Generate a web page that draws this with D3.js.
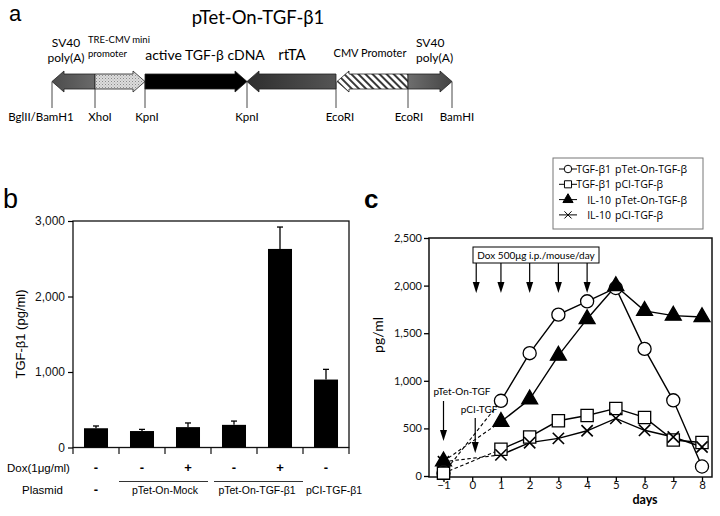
<!DOCTYPE html>
<html><head><meta charset="utf-8">
<script src="https://cdn.jsdelivr.net/npm/d3@7"></script>
<style>body{margin:0;background:#fff} svg{display:block}</style>
</head><body>
<svg id="fig" width="720" height="516"></svg>
<script>
// ---------- Panel a: plasmid map ----------
const mapTitle = "pTet-On-TGF-β1";
const mapSiteNames = ["BglII/BamH1", "XhoI", "KpnI", "KpnI", "EcoRI", "EcoRI", "BamHI"];
const mapSitePos = [0, 43, 93, 195, 284, 356, 400];
const mapElementLabels = [["SV40", "poly(A)"], ["TRE-CMV mini", "promoter"], ["active TGF-β cDNA"], ["rtTA"], ["CMV Promoter"], ["SV40", "poly(A)"]];
const mapDirections = [-1, 1, 1, -1, -1, 1];

// ---------- Panel b: bar chart ----------
const bDox = ["-", "-", "+", "-", "+", "-"];
const bValues = [255, 218, 270, 300, 2630, 900];
const bErrors = [30, 22, 55, 50, 290, 135];
const bYTicks = [0, 1000, 2000, 3000];
const bPlasmidLabels = ["-", "pTet-On-Mock", "pTet-On-TGF-β1", "pCI-TGF-β1"];
const bPlasmidFrom = [0, 1, 3, 5];
const bPlasmidTo = [0, 2, 4, 5];

// ---------- Panel c: time course ----------
const days = [-1, 1, 2, 3, 4, 5, 6, 7, 8];
const tgfTet = [30, 790, 1290, 1695, 1835, 1975, 1335, 795, 100];
const tgfPCI = [30, 280, 410, 580, 635, 710, 615, 378, 352];
const il10Tet = [155, 570, 805, 1265, 1650, 1995, 1735, 1685, 1670];
const il10PCI = [150, 222, 350, 395, 475, 605, 480, 410, 305];
const seriesNames = [["TGF-β1", "pTet-On-TGF-β"], ["TGF-β1", "pCI-TGF-β"], ["IL-10", "pTet-On-TGF-β"], ["IL-10", "pCI-TGF-β"]];
const cXTicks = [-1, 0, 1, 2, 3, 4, 5, 6, 7, 8];
const cYTicks = [0, 500, 1000, 1500, 2000, 2500];
const doxDays = [0, 1, 2, 3, 4];

const svg = d3.select("#fig");
const defs = svg.append("defs");
const FA = "Lato, 'Noto Sans', sans-serif";
const FB = "'Liberation Sans', Arial, sans-serif";
const FL = "'Open Sans', 'Noto Sans', sans-serif";

// patterns / gradients
const stip = defs.append("pattern").attr("id", "stip").attr("width", 3).attr("height", 3).attr("patternUnits", "userSpaceOnUse");
stip.append("rect").attr("width", 3).attr("height", 3).attr("fill", "#dcdcdc");
stip.append("rect").attr("width", 1).attr("height", 1).attr("fill", "#8a8a8a");
stip.append("rect").attr("x", 1.5).attr("y", 1.5).attr("width", 1).attr("height", 1).attr("fill", "#a8a8a8");
const hatch = defs.append("pattern").attr("id", "hatch").attr("width", 5).attr("height", 5)
  .attr("patternUnits", "userSpaceOnUse").attr("patternTransform", "rotate(-45)");
hatch.append("rect").attr("width", 5).attr("height", 5).attr("fill", "#fff");
hatch.append("line").attr("x1", 1).attr("y1", 0).attr("x2", 1).attr("y2", 5).attr("stroke", "#222").attr("stroke-width", 1.8);
function grad(id, c0, c1) {
  const g = defs.append("linearGradient").attr("id", id);
  g.append("stop").attr("offset", "0%").attr("stop-color", c0);
  g.append("stop").attr("offset", "100%").attr("stop-color", c1);
}
grad("gL", "#4c4c4c", "#6a6a6a");
grad("gRt", "#2e2e2e", "#555");
grad("gR", "#6e6e6e", "#444");
const mapFills = ["url(#gL)", "url(#stip)", "#000", "url(#gRt)", "url(#hatch)", "url(#gR)"];

// ---------- Panel a drawing ----------
svg.append("text").attr("x", 9).attr("y", 21).attr("font-family", FB).attr("font-size", 22).text("a");
svg.append("text").attr("x", 258).attr("y", 24).attr("text-anchor", "middle").attr("font-family", FA).attr("font-size", 18.5).text(mapTitle);

const mapX = d3.scaleLinear([0, 400], [52, 452]);
const yMid = 81.5, bodyH = 7.5, headH = 10.5, headL = 12;
function arrowPath(xa, xb, dir) {
  if (dir > 0) {
    const hb = xb - headL;
    return `M${xa},${yMid - bodyH}L${hb},${yMid - bodyH}L${hb},${yMid - headH}L${xb},${yMid}L${hb},${yMid + headH}L${hb},${yMid + bodyH}L${xa},${yMid + bodyH}Z`;
  } else {
    const hb = xa + headL;
    return `M${xb},${yMid - bodyH}L${hb},${yMid - bodyH}L${hb},${yMid - headH}L${xa},${yMid}L${hb},${yMid + headH}L${hb},${yMid + bodyH}L${xb},${yMid + bodyH}Z`;
  }
}
// site lines
svg.append("g").selectAll("line").data(mapSitePos).join("line")
  .attr("x1", d => mapX(d)).attr("x2", d => mapX(d)).attr("y1", yMid).attr("y2", 108)
  .attr("stroke", "#333").attr("stroke-width", 0.9);
// arrows
svg.append("g").selectAll("path").data(mapDirections).join("path")
  .attr("d", (d, i) => arrowPath(mapX(mapSitePos[i]) + (i === 4 ? 1 : 0), mapX(mapSitePos[i + 1]), d))
  .attr("fill", (d, i) => mapFills[i]).attr("stroke", "#222").attr("stroke-width", 0.8);
// site labels
const siteDx = [-11, 5, 2, 0, 4, 1, 5];
svg.append("g").selectAll("text").data(mapSiteNames).join("text")
  .attr("x", (d, i) => mapX(mapSitePos[i]) + siteDx[i]).attr("y", 121)
  .attr("text-anchor", "middle").attr("font-family", FA).attr("font-size", 11.5).text(d => d);
// element labels (layout)
const elLabelX = [66, 88, 205, 292, 370, 416];
const elAnchor = ["middle", "start", "middle", "middle", "middle", "start"];
const elSize = [12, 9.5, 14, 15, 11, 12];
const elY = [[47, 62], [43, 57], [60], [60], [57], [47, 62]];
mapElementLabels.forEach((lines, i) => {
  lines.forEach((t, j) => {
    svg.append("text").attr("x", elLabelX[i]).attr("y", elY[i][j]).attr("text-anchor", elAnchor[i])
      .attr("font-family", FA).attr("font-size", elSize[i]).text(t);
  });
});

// ---------- Panel b drawing ----------
svg.append("text").attr("x", 3).attr("y", 208).attr("font-family", FB).attr("font-size", 27).text("b");
const bX = d3.scaleBand(d3.range(bValues.length), [73, 349]).paddingInner(0.478).paddingOuter(0.239);
const bY = d3.scaleLinear([0, 3000], [447.5, 221]);
svg.append("rect").attr("x", 73).attr("y", 221).attr("width", 276).attr("height", 226.5)
  .attr("fill", "none").attr("stroke", "#111").attr("stroke-width", 1.3);
const bAx = svg.append("g").attr("transform", "translate(73,0)")
  .call(d3.axisLeft(bY).tickValues(bYTicks).tickFormat(d3.format(",")).tickSize(5).tickSizeOuter(0));
bAx.select(".domain").remove();
bAx.selectAll("line").attr("stroke-width", 1.2);
bAx.selectAll("text").attr("font-family", FB).attr("font-size", 12).attr("fill", "#111");
// bottom ticks at band boundaries
const bGap = bX.step() - bX.bandwidth();
const bBounds = d3.range(bValues.length + 1).map(i => i < bValues.length ? bX(i) - bGap / 2 : bX(i - 1) + bX.bandwidth() + bGap / 2);
svg.append("g").selectAll("line").data(bBounds).join("line")
  .attr("x1", d => d).attr("x2", d => d).attr("y1", 447.5).attr("y2", 454).attr("stroke", "#111").attr("stroke-width", 1.2);
// bars
svg.append("g").selectAll("rect").data(bValues).join("rect")
  .attr("x", (d, i) => bX(i)).attr("width", bX.bandwidth())
  .attr("y", d => bY(d)).attr("height", d => bY(0) - bY(d)).attr("fill", "#000");
// error bars
const eb = svg.append("g").attr("stroke", "#000").attr("stroke-width", 1.3);
bValues.forEach((v, i) => {
  const cx = bX(i) + bX.bandwidth() / 2;
  eb.append("line").attr("x1", cx).attr("x2", cx).attr("y1", bY(v)).attr("y2", bY(v + bErrors[i]));
  eb.append("line").attr("x1", cx - 3).attr("x2", cx + 3).attr("y1", bY(v + bErrors[i])).attr("y2", bY(v + bErrors[i]));
});
// dox row
svg.append("text").attr("x", 7).attr("y", 472).attr("font-family", FB).attr("font-size", 11.5).text("Dox(1μg/ml)");
svg.append("g").selectAll("text").data(bDox).join("text")
  .attr("x", (d, i) => bX(i) + bX.bandwidth() / 2).attr("y", 472).attr("text-anchor", "middle")
  .attr("font-family", FB).attr("font-weight", "bold").attr("font-size", 13).text(d => d);
// plasmid row
svg.append("text").attr("x", 22).attr("y", 494).attr("font-family", FB).attr("font-size", 11.5).text("Plasmid");
bPlasmidLabels.forEach((t, k) => {
  const x0 = bX(bPlasmidFrom[k]), x1 = bX(bPlasmidTo[k]) + bX.bandwidth();
  const cx = (x0 + x1) / 2;
  const single = bPlasmidFrom[k] === bPlasmidTo[k];
  const txt = svg.append("text").attr("y", 494).attr("font-family", FB)
    .attr("font-size", t === "-" ? 13 : 10.5).attr("font-weight", t === "-" ? "bold" : "normal").text(t);
  if (single && t !== "-") txt.attr("x", bBounds[bPlasmidFrom[k]] + 3).attr("text-anchor", "start");
  else txt.attr("x", cx).attr("text-anchor", "middle");
  if (!single) {
    svg.append("line").attr("x1", bBounds[bPlasmidFrom[k]] + (k === 1 ? 0 : 3)).attr("x2", bBounds[bPlasmidTo[k] + 1] - (k === 1 ? 3 : 0))
      .attr("y1", 481.5).attr("y2", 481.5).attr("stroke", "#333").attr("stroke-width", 1);
  }
});
// y title
svg.append("text").attr("transform", "translate(25,334) rotate(-90)").attr("text-anchor", "middle")
  .attr("font-family", FB).attr("font-size", 13).text("TGF-β1 (pg/ml)");

// ---------- Panel c drawing ----------
svg.append("text").attr("x", 364).attr("y", 208).attr("font-family", FB).attr("font-weight", "bold").attr("font-size", 26).text("c");
const cX = d3.scaleLinear([-1, 8], [443.5, 702]);
const cY = d3.scaleLinear([0, 2500], [476, 238]);
svg.append("rect").attr("x", 429).attr("y", 238).attr("width", 283).attr("height", 239)
  .attr("fill", "none").attr("stroke", "#111").attr("stroke-width", 1.5);
const cYA = svg.append("g").attr("transform", "translate(429,0)")
  .call(d3.axisLeft(cY).tickValues(cYTicks).tickFormat(d3.format(",")).tickSize(5).tickPadding(2));
cYA.select(".domain").remove();
cYA.selectAll("line").attr("stroke-width", 1.3);
cYA.selectAll("text").attr("font-family", FA).attr("font-size", 11).attr("fill", "#111");
const cXA = svg.append("g").attr("transform", "translate(0,477)")
  .call(d3.axisBottom(cX).tickValues(cXTicks).tickFormat(d3.format("d")).tickSize(5).tickPadding(-1));
cXA.select(".domain").remove();
cXA.selectAll("line").attr("stroke-width", 1.3);
cXA.selectAll("text").attr("font-family", FA).attr("font-size", 11.5).attr("fill", "#111");
svg.append("text").attr("x", 645).attr("y", 504).attr("text-anchor", "middle").attr("font-family", FA)
  .attr("font-weight", "bold").attr("font-size", 12.5).text("days");
svg.append("text").attr("transform", "translate(383,335) rotate(-90)").attr("text-anchor", "middle")
  .attr("font-family", FA).attr("font-size", 14).text("pg/ml");

const series = [tgfTet, tgfPCI, il10Tet, il10PCI];
const symbols = [d3.symbolCircle, d3.symbolSquare, d3.symbolTriangle, d3.symbolTimes];
const symSize = [135, 150, 110, 85];
const symFill = ["#fff", "#fff", "#000", "none"];
const line = d3.line().x(d => cX(d[0])).y(d => cY(d[1]));
const lg = svg.append("g").attr("fill", "none").attr("stroke", "#000");
series.forEach(s => {
  const pts = days.map((d, i) => [d, s[i]]);
  lg.append("path").attr("d", line(pts.slice(0, 2))).attr("stroke-dasharray", "3.5,2.5").attr("stroke-width", 1.1);
  lg.append("path").attr("d", line(pts.slice(1))).attr("stroke-width", 1.4);
});
series.forEach((s, k) => {
  svg.append("g").selectAll("path").data(days).join("path")
    .attr("transform", (d, i) => `translate(${cX(d)},${cY(s[i])})`)
    .attr("d", d3.symbol(symbols[k], symSize[k])())
    .attr("fill", symFill[k]).attr("stroke", "#000").attr("stroke-width", k === 3 ? 1.6 : 1.3);
});

// arrows helper
function downArrow(x, y0, y1) {
  svg.append("line").attr("x1", x).attr("x2", x).attr("y1", y0).attr("y2", y1 - 8).attr("stroke", "#000").attr("stroke-width", 1.2);
  svg.append("path").attr("d", `M${x - 3.5},${y1 - 11}L${x + 3.5},${y1 - 11}L${x},${y1}Z`).attr("fill", "#000");
}
// Dox box
svg.append("rect").attr("x", 473).attr("y", 247).attr("width", 126).attr("height", 16).attr("fill", "#fff").attr("stroke", "#000").attr("stroke-width", 1);
svg.append("text").attr("x", 536).attr("y", 259).attr("text-anchor", "middle").attr("font-family", FA).attr("font-size", 10).text("Dox 500μg i.p./mouse/day");
doxDays.forEach(d => downArrow(cX(d) + (d === 0 ? 4 : 0), 263, 293));
// injection arrows
svg.append("text").attr("x", 462).attr("y", 395).attr("text-anchor", "middle").attr("font-family", FA).attr("font-size", 10).text("pTet-On-TGF");
downArrow(cX(-1), 401, 441);
svg.append("text").attr("x", 479).attr("y", 413).attr("text-anchor", "middle").attr("font-family", FA).attr("font-size", 10).text("pCI-TGF");
downArrow(cX(0) + 3, 418, 453);

// legend
svg.append("rect").attr("x", 553).attr("y", 158).attr("width", 150).attr("height", 71).attr("fill", "#fff").attr("stroke", "#777").attr("stroke-width", 1);
const legSymSize = [45, 50, 45, 35];
seriesNames.forEach((nm, k) => {
  const y = 169 + k * 15.3;
  svg.append("line").attr("x1", 559).attr("x2", 577).attr("y1", y).attr("y2", y).attr("stroke", "#000").attr("stroke-width", 1);
  svg.append("path").attr("transform", `translate(568,${y})`).attr("d", d3.symbol(symbols[k], legSymSize[k])())
    .attr("fill", symFill[k]).attr("stroke", "#000").attr("stroke-width", 1);
  svg.append("text").attr("x", 611).attr("y", y + 4).attr("text-anchor", "end").attr("font-family", FL).attr("font-size", 10.5).text(nm[0]);
  svg.append("text").attr("x", 615).attr("y", y + 4).attr("font-family", FL).attr("font-size", 10.5).text(nm[1]);
});
</script>
</body></html>
